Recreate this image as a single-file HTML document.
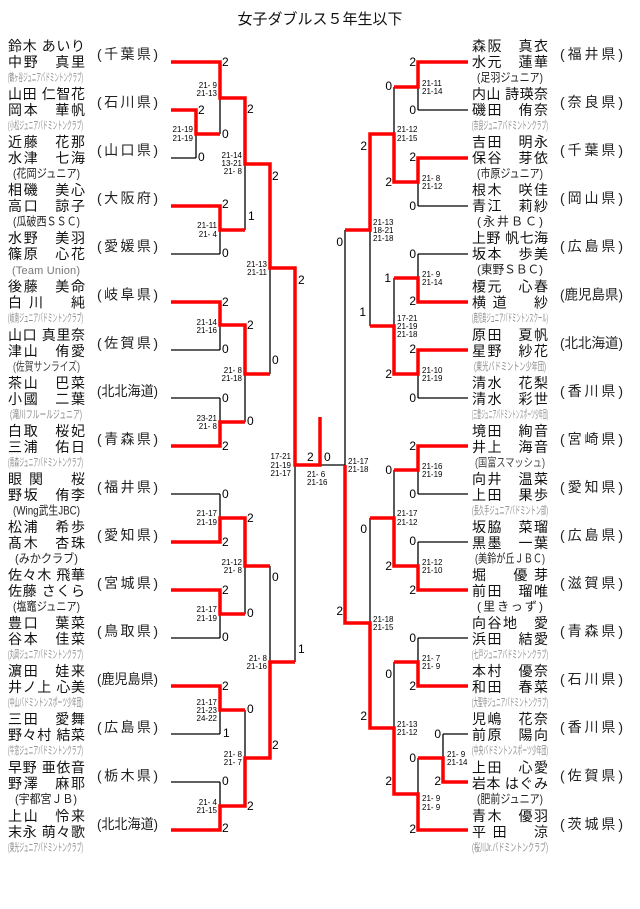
<!DOCTYPE html>
<html><head><meta charset="utf-8"><style>
html,body{margin:0;padding:0;background:#fff}
svg{display:block;font-family:"Liberation Sans","Noto Sans CJK JP",sans-serif}
.t{font-size:15px;fill:#111}
.n{font-size:14px;fill:#111}
.p{font-size:14px;fill:#222}
.c{font-size:12px;fill:#222}
.s{font-size:11px;fill:#8a8a8a}
.k{font-size:8px;fill:#000;white-space:pre}
.d{font-size:12px;fill:#000}
.e{text-anchor:end}
.bk{fill:none;stroke:#000;stroke-width:1.3}
.rd{fill:none;stroke:#f00;stroke-width:3.5;stroke-linejoin:miter}
</style></head><body>
<svg width="640" height="909" viewBox="0 0 640 909" xmlns="http://www.w3.org/2000/svg">
<rect width="640" height="909" fill="#fff"/>
<text class="t" x="320" y="24" text-anchor="middle">女子ダブルス５年生以下</text>

<!-- LEFT NAMES -->
<g class="n">
<text x="8" y="51" textLength="77" lengthAdjust="spacing">鈴木 あいり</text>
<text x="8" y="67" textLength="77" lengthAdjust="spacing">中野　真里</text>
<text x="8" y="99" textLength="77" lengthAdjust="spacing">山田 仁智花</text>
<text x="8" y="115" textLength="77" lengthAdjust="spacing">岡本　華帆</text>
<text x="8" y="147" textLength="77" lengthAdjust="spacing">近藤　花那</text>
<text x="8" y="163" textLength="77" lengthAdjust="spacing">水津　七海</text>
<text x="8" y="195" textLength="77" lengthAdjust="spacing">相磯　美心</text>
<text x="8" y="211" textLength="77" lengthAdjust="spacing">高口　諒子</text>
<text x="8" y="243" textLength="77" lengthAdjust="spacing">水野　美羽</text>
<text x="8" y="259" textLength="77" lengthAdjust="spacing">篠原　心花</text>
<text x="8" y="291.5" textLength="77" lengthAdjust="spacing">後藤　美命</text>
<text x="8" y="307.5" textLength="77" lengthAdjust="spacing">白川　純</text>
<text x="8" y="340" textLength="77" lengthAdjust="spacing">山口 真里奈</text>
<text x="8" y="356" textLength="77" lengthAdjust="spacing">津山　侑愛</text>
<text x="8" y="388" textLength="77" lengthAdjust="spacing">茶山　巴菜</text>
<text x="8" y="404" textLength="77" lengthAdjust="spacing">小國　二葉</text>
<text x="8" y="436" textLength="77" lengthAdjust="spacing">白取　桜妃</text>
<text x="8" y="452" textLength="77" lengthAdjust="spacing">三浦　佑日</text>
<text x="8" y="484" textLength="77" lengthAdjust="spacing">眼関　桜</text>
<text x="8" y="500" textLength="77" lengthAdjust="spacing">野坂　侑李</text>
<text x="8" y="532" textLength="77" lengthAdjust="spacing">松浦　希歩</text>
<text x="8" y="548" textLength="77" lengthAdjust="spacing">髙木　杏珠</text>
<text x="8" y="580" textLength="77" lengthAdjust="spacing">佐々木 飛華</text>
<text x="8" y="596" textLength="77" lengthAdjust="spacing">佐藤 さくら</text>
<text x="8" y="628" textLength="77" lengthAdjust="spacing">豊口　葉菜</text>
<text x="8" y="644" textLength="77" lengthAdjust="spacing">谷本　佳菜</text>
<text x="8" y="676" textLength="77" lengthAdjust="spacing">濵田　娃来</text>
<text x="8" y="692" textLength="77" lengthAdjust="spacing">井ノ上 心美</text>
<text x="8" y="724" textLength="77" lengthAdjust="spacing">三田　愛舞</text>
<text x="8" y="740" textLength="77" lengthAdjust="spacing">野々村 結菜</text>
<text x="8" y="772.5" textLength="77" lengthAdjust="spacing">早野 亜依音</text>
<text x="8" y="788.5" textLength="77" lengthAdjust="spacing">野澤　麻耶</text>
<text x="8" y="821" textLength="77" lengthAdjust="spacing">上山　怜来</text>
<text x="8" y="837" textLength="77" lengthAdjust="spacing">末永 萌々歌</text>
</g>

<!-- LEFT CLUBS -->
<text class="s" x="8" y="81" textLength="75" lengthAdjust="spacingAndGlyphs">(鶴ヶ谷ジュニアバドミントンクラブ)</text>
<text class="s" x="8" y="129" textLength="75" lengthAdjust="spacingAndGlyphs">(小松ジュニアバドミントンクラブ)</text>
<text class="c" x="13" y="177.5" textLength="67" lengthAdjust="spacingAndGlyphs">(花岡ジュニア)</text>
<text class="c" x="13" y="225.5" textLength="67" lengthAdjust="spacingAndGlyphs">(瓜破西ＳＳＣ)</text>
<text class="s" x="12" y="274" textLength="68" lengthAdjust="spacing" style="fill:#777">(Team Union)</text>
<text class="s" x="8" y="321.5" textLength="75" lengthAdjust="spacingAndGlyphs">(岐南ジュニアバドミントンクラブ)</text>
<text class="c" x="13" y="370.5" textLength="67" lengthAdjust="spacingAndGlyphs" style="fill:#444">(佐賀サンライズ)</text>
<text class="s" x="10" y="418" textLength="72" lengthAdjust="spacingAndGlyphs">(滝川フルールジュニア)</text>
<text class="s" x="8" y="466" textLength="75" lengthAdjust="spacingAndGlyphs">(青森ジュニアバドミントンクラブ)</text>
<text class="c" x="13" y="514.5" textLength="67" lengthAdjust="spacingAndGlyphs">(Wing武生JBC)</text>
<text class="c" x="15" y="562.5" textLength="63" lengthAdjust="spacingAndGlyphs">(みかクラブ)</text>
<text class="c" x="13" y="610.5" textLength="67" lengthAdjust="spacingAndGlyphs">(塩竈ジュニア)</text>
<text class="s" x="8" y="658" textLength="75" lengthAdjust="spacingAndGlyphs">(丸岡ジュニアバドミントンクラブ)</text>
<text class="s" x="8" y="706" textLength="75" lengthAdjust="spacingAndGlyphs">(中山バドミントンスポーツ少年団)</text>
<text class="s" x="8" y="754" textLength="75" lengthAdjust="spacingAndGlyphs">(牛窓ジュニアバドミントンクラブ)</text>
<text class="c" x="15" y="803" textLength="62" lengthAdjust="spacingAndGlyphs">(宇都宮ＪＢ)</text>
<text class="s" x="8" y="851" textLength="75" lengthAdjust="spacingAndGlyphs">(東光ジュニアバドミントンクラブ)</text>

<!-- LEFT PREFS -->
<text class="p" x="97" y="59" textLength="61" lengthAdjust="spacing">(千葉県)</text>
<text class="p" x="97" y="107" textLength="61" lengthAdjust="spacing">(石川県)</text>
<text class="p" x="97" y="155" textLength="61" lengthAdjust="spacing">(山口県)</text>
<text class="p" x="97" y="203" textLength="61" lengthAdjust="spacing">(大阪府)</text>
<text class="p" x="97" y="251" textLength="61" lengthAdjust="spacing">(愛媛県)</text>
<text class="p" x="97" y="299.5" textLength="61" lengthAdjust="spacing">(岐阜県)</text>
<text class="p" x="97" y="348" textLength="61" lengthAdjust="spacing">(佐賀県)</text>
<text class="p" x="97" y="396" textLength="61" lengthAdjust="spacingAndGlyphs">(北北海道)</text>
<text class="p" x="97" y="444" textLength="61" lengthAdjust="spacing">(青森県)</text>
<text class="p" x="97" y="492" textLength="61" lengthAdjust="spacing">(福井県)</text>
<text class="p" x="97" y="540" textLength="61" lengthAdjust="spacing">(愛知県)</text>
<text class="p" x="97" y="588" textLength="61" lengthAdjust="spacing">(宮城県)</text>
<text class="p" x="97" y="636" textLength="61" lengthAdjust="spacing">(鳥取県)</text>
<text class="p" x="97" y="684" textLength="61" lengthAdjust="spacingAndGlyphs">(鹿児島県)</text>
<text class="p" x="97" y="732" textLength="61" lengthAdjust="spacing">(広島県)</text>
<text class="p" x="97" y="780.5" textLength="61" lengthAdjust="spacing">(栃木県)</text>
<text class="p" x="97" y="829" textLength="61" lengthAdjust="spacingAndGlyphs">(北北海道)</text>

<!-- RIGHT NAMES -->
<g class="n">
<text x="472" y="51" textLength="76" lengthAdjust="spacing">森阪　真衣</text>
<text x="472" y="67" textLength="76" lengthAdjust="spacing">水元　蓮華</text>
<text x="472" y="99" textLength="76" lengthAdjust="spacing">内山 詩瑛奈</text>
<text x="472" y="115" textLength="76" lengthAdjust="spacing">磯田　侑奈</text>
<text x="472" y="147" textLength="76" lengthAdjust="spacing">吉田　明永</text>
<text x="472" y="163" textLength="76" lengthAdjust="spacing">保谷　芽依</text>
<text x="472" y="195" textLength="76" lengthAdjust="spacing">根木　咲佳</text>
<text x="472" y="211" textLength="76" lengthAdjust="spacing">青江　莉紗</text>
<text x="472" y="243" textLength="76" lengthAdjust="spacing">上野 帆七海</text>
<text x="472" y="259" textLength="76" lengthAdjust="spacing">坂本　歩美</text>
<text x="472" y="291.5" textLength="76" lengthAdjust="spacing">榎元　心春</text>
<text x="472" y="307.5" textLength="76" lengthAdjust="spacing">横道　紗</text>
<text x="472" y="340" textLength="76" lengthAdjust="spacing">原田　夏帆</text>
<text x="472" y="356" textLength="76" lengthAdjust="spacing">星野　紗花</text>
<text x="472" y="388" textLength="76" lengthAdjust="spacing">清水　花梨</text>
<text x="472" y="404" textLength="76" lengthAdjust="spacing">清水　彩世</text>
<text x="472" y="436" textLength="76" lengthAdjust="spacing">境田　絢音</text>
<text x="472" y="452" textLength="76" lengthAdjust="spacing">井上　海音</text>
<text x="472" y="484" textLength="76" lengthAdjust="spacing">向井　温菜</text>
<text x="472" y="500" textLength="76" lengthAdjust="spacing">上田　果歩</text>
<text x="472" y="532" textLength="76" lengthAdjust="spacing">坂脇　菜瑠</text>
<text x="472" y="548" textLength="76" lengthAdjust="spacing">黒墨　一葉</text>
<text x="472" y="580" textLength="76" lengthAdjust="spacing">堀　優芽</text>
<text x="472" y="596" textLength="76" lengthAdjust="spacing">前田　瑠唯</text>
<text x="472" y="628" textLength="76" lengthAdjust="spacing">向谷地　愛</text>
<text x="472" y="644" textLength="76" lengthAdjust="spacing">浜田　結愛</text>
<text x="472" y="676" textLength="76" lengthAdjust="spacing">本村　優奈</text>
<text x="472" y="692" textLength="76" lengthAdjust="spacing">和田　春菜</text>
<text x="472" y="724" textLength="76" lengthAdjust="spacing">児嶋　花奈</text>
<text x="472" y="740" textLength="76" lengthAdjust="spacing">前原　陽向</text>
<text x="472" y="772.5" textLength="76" lengthAdjust="spacing">上田　心愛</text>
<text x="472" y="788.5" textLength="76" lengthAdjust="spacing">岩本 はぐみ</text>
<text x="472" y="821" textLength="76" lengthAdjust="spacing">青木　優羽</text>
<text x="472" y="837" textLength="76" lengthAdjust="spacing">平田　涼</text>
</g>

<!-- RIGHT CLUBS -->
<text class="c" x="477" y="81.5" textLength="66" lengthAdjust="spacingAndGlyphs">(足羽ジュニア)</text>
<text class="s" x="472" y="129" textLength="76" lengthAdjust="spacingAndGlyphs">(奈良ジュニアバドミントンクラブ)</text>
<text class="c" x="477" y="177.5" textLength="66" lengthAdjust="spacingAndGlyphs">(市原ジュニア)</text>
<text class="c" x="477" y="225.5" textLength="66" lengthAdjust="spacing">(永井ＢＣ)</text>
<text class="c" x="477" y="273.5" textLength="66" lengthAdjust="spacingAndGlyphs">(東野ＳＢＣ)</text>
<text class="s" x="472" y="321.5" textLength="76" lengthAdjust="spacingAndGlyphs">(鹿児島ジュニアバドミントンスクール)</text>
<text class="s" x="474" y="370" textLength="72" lengthAdjust="spacingAndGlyphs">(東光バドミントン少年団)</text>
<text class="s" x="472" y="418" textLength="76" lengthAdjust="spacingAndGlyphs">(三豊ジュニアバドミントンスポーツ少年団)</text>
<text class="c" x="475" y="466.5" textLength="70" lengthAdjust="spacingAndGlyphs" style="fill:#444">(国富スマッシュ)</text>
<text class="s" x="472" y="514" textLength="76" lengthAdjust="spacingAndGlyphs">(長久手ジュニアバドミントン部)</text>
<text class="c" x="475" y="562.5" textLength="70" lengthAdjust="spacingAndGlyphs">(美鈴が丘ＪＢＣ)</text>
<text class="c" x="477" y="610.5" textLength="66" lengthAdjust="spacing">(里きっず)</text>
<text class="s" x="472" y="658" textLength="76" lengthAdjust="spacingAndGlyphs">(七戸ジュニアバドミントンクラブ)</text>
<text class="s" x="472" y="706" textLength="76" lengthAdjust="spacingAndGlyphs">(大聖寺ジュニアバドミントンクラブ)</text>
<text class="s" x="472" y="754" textLength="76" lengthAdjust="spacingAndGlyphs">(中央バドミントンスポーツ少年団)</text>
<text class="c" x="477" y="803" textLength="66" lengthAdjust="spacingAndGlyphs">(肥前ジュニア)</text>
<text class="s" x="472" y="851" textLength="76" lengthAdjust="spacingAndGlyphs">(桜川Jr.バドミントンクラブ)</text>

<!-- RIGHT PREFS -->
<text class="p" x="560" y="59" textLength="63" lengthAdjust="spacing">(福井県)</text>
<text class="p" x="560" y="107" textLength="63" lengthAdjust="spacing">(奈良県)</text>
<text class="p" x="560" y="155" textLength="63" lengthAdjust="spacing">(千葉県)</text>
<text class="p" x="560" y="203" textLength="63" lengthAdjust="spacing">(岡山県)</text>
<text class="p" x="560" y="251" textLength="63" lengthAdjust="spacing">(広島県)</text>
<text class="p" x="560" y="299.5" textLength="63" lengthAdjust="spacingAndGlyphs">(鹿児島県)</text>
<text class="p" x="560" y="348" textLength="63" lengthAdjust="spacingAndGlyphs">(北北海道)</text>
<text class="p" x="560" y="396" textLength="63" lengthAdjust="spacing">(香川県)</text>
<text class="p" x="560" y="444" textLength="63" lengthAdjust="spacing">(宮崎県)</text>
<text class="p" x="560" y="492" textLength="63" lengthAdjust="spacing">(愛知県)</text>
<text class="p" x="560" y="540" textLength="63" lengthAdjust="spacing">(広島県)</text>
<text class="p" x="560" y="588" textLength="63" lengthAdjust="spacing">(滋賀県)</text>
<text class="p" x="560" y="636" textLength="63" lengthAdjust="spacing">(青森県)</text>
<text class="p" x="560" y="684" textLength="63" lengthAdjust="spacing">(石川県)</text>
<text class="p" x="560" y="732" textLength="63" lengthAdjust="spacing">(香川県)</text>
<text class="p" x="560" y="780.5" textLength="63" lengthAdjust="spacing">(佐賀県)</text>
<text class="p" x="560" y="829" textLength="63" lengthAdjust="spacing">(茨城県)</text>

<!-- BLACK LINES -->
<path class="bk" d="M171 158H196M196 110V158M220 62V134M171 254H220M220 206V254M245 98V230M270 164V374M171 350H220M220 302V350M245 325V422M171 398H220M220 398V446M295 268V662M171 494H220M220 494V542M245 518V614M171 638H220M220 590V638M270 566V758M171 734H220M220 686V734M245 710V806M171 782H220M220 782V830M320 465H345"/>
<path class="bk" d="M468 110H418M418 62V110M394 87V182M468 206H418M418 158V206M370 134V326M468 254H418M418 254V302M394 278V374M468 398H418M418 350V398M345 230V623M468 494H418M418 446V494M394 470V566M468 542H418M418 542V590M370 518V728M468 638H418M418 638V686M394 662V794M468 734H443M443 734V782M418 758V830"/>

<!-- RED LINES -->
<path class="rd" d="M171 62H220V98H245V164H270V268H295V465H320V417"/>
<path class="rd" d="M171 110H196V134H220"/>
<path class="rd" d="M171 206H220V230H245"/>
<path class="rd" d="M171 302H220V325H245V374H270"/>
<path class="rd" d="M171 446H220V422H245"/>
<path class="rd" d="M171 542H220V518H245V566H270"/>
<path class="rd" d="M171 590H220V614H245"/>
<path class="rd" d="M171 686H220V710H245"/>
<path class="rd" d="M171 830H220V806H245V758H270V662H295"/>
<path class="rd" d="M468 62H418V87H394"/>
<path class="rd" d="M468 158H418V182H394V134H370V230H345"/>
<path class="rd" d="M468 302H418V278H394"/>
<path class="rd" d="M468 350H418V374H394V326H370"/>
<path class="rd" d="M468 446H418V470H394"/>
<path class="rd" d="M468 590H418V566H394V518H370"/>
<path class="rd" d="M468 686H418V662H394"/>
<path class="rd" d="M468 782H443V758H418"/>
<path class="rd" d="M468 830H418V794H394V728H370V623H345V465"/>

<!-- GAME COUNTS LEFT -->
<g class="d">
<text x="222" y="66">2</text><text x="222" y="138">0</text><text x="222" y="208">2</text><text x="222" y="257">0</text>
<text x="222" y="306">2</text><text x="222" y="353">0</text><text x="222" y="402">0</text><text x="222" y="450">2</text>
<text x="222" y="498">0</text><text x="222" y="546">2</text><text x="222" y="594">2</text><text x="222" y="641">0</text>
<text x="222" y="690">2</text><text x="223" y="737">1</text><text x="222" y="785">0</text><text x="222" y="832">2</text>
<text x="198" y="114">2</text><text x="198" y="161">0</text>
<text x="247" y="113">2</text><text x="248" y="220">1</text><text x="247" y="329">2</text><text x="247" y="425">0</text>
<text x="247" y="522">2</text><text x="247" y="617">0</text><text x="247" y="713">0</text><text x="247" y="810">2</text>
<text x="272" y="180">2</text><text x="272" y="364">0</text><text x="272" y="581">0</text><text x="272" y="749">2</text>
<text x="298" y="284">2</text><text x="298" y="653">1</text>
<text x="307" y="461">2</text><text x="324" y="461">0</text>
</g>
<!-- GAME COUNTS RIGHT -->
<g class="d e">
<text x="416" y="66">2</text><text x="416" y="114">0</text><text x="416" y="161">2</text><text x="416" y="210">0</text>
<text x="416" y="258">0</text><text x="416" y="305">2</text><text x="416" y="353">2</text><text x="416" y="402">0</text>
<text x="416" y="450">2</text><text x="416" y="498">0</text><text x="416" y="545">0</text><text x="416" y="594">2</text>
<text x="416" y="642">0</text><text x="416" y="690">2</text><text x="416" y="762">0</text><text x="416" y="833">2</text>
<text x="441" y="738">0</text><text x="441" y="785">2</text>
<text x="392" y="90">0</text><text x="392" y="186">2</text><text x="391" y="282">1</text><text x="392" y="378">2</text>
<text x="392" y="474">0</text><text x="392" y="570">2</text><text x="392" y="678">0</text><text x="392" y="785">2</text>
<text x="367" y="150">2</text><text x="366" y="316">1</text><text x="367" y="533">0</text><text x="367" y="720">2</text>
<text x="343" y="246">0</text><text x="343" y="615">2</text>
</g>

<!-- SCORES LEFT -->
<g class="k e">
<text x="193" y="132">21-19</text><text x="193" y="141">21-19</text>
<text x="217" y="88">21- 9</text><text x="217" y="96">21-13</text>
<text x="217" y="228">21-11</text><text x="217" y="237">21- 4</text>
<text x="242" y="158">21-14</text><text x="242" y="166">13-21</text><text x="242" y="174">21- 8</text>
<text x="217" y="325">21-14</text><text x="217" y="333">21-16</text>
<text x="217" y="421">23-21</text><text x="217" y="429">21- 8</text>
<text x="242" y="373">21- 8</text><text x="242" y="381">21-18</text>
<text x="267" y="267">21-13</text><text x="267" y="275">21-11</text>
<text x="291" y="459">17-21</text><text x="291" y="468">21-19</text><text x="291" y="476">21-17</text>
<text x="217" y="516">21-17</text><text x="217" y="525">21-19</text>
<text x="217" y="612">21-17</text><text x="217" y="621">21-19</text>
<text x="242" y="565">21-12</text><text x="242" y="573">21- 8</text>
<text x="267" y="661">21- 8</text><text x="267" y="669">21-16</text>
<text x="217" y="705">21-17</text><text x="217" y="713">21-23</text><text x="217" y="721">24-22</text>
<text x="242" y="757">21- 8</text><text x="242" y="765">21- 7</text>
<text x="217" y="805">21- 4</text><text x="217" y="813">21-15</text>
</g>
<g class="k">
<text x="307" y="477">21- 6</text><text x="307" y="485">21-16</text>
<text x="422" y="86">21-11</text><text x="422" y="94">21-14</text>
<text x="397" y="132">21-12</text><text x="397" y="141">21-15</text>
<text x="422" y="181">21- 8</text><text x="422" y="189">21-12</text>
<text x="373" y="225">21-13</text><text x="373" y="233">18-21</text><text x="373" y="241">21-18</text>
<text x="422" y="277">21- 9</text><text x="422" y="285">21-14</text>
<text x="397" y="321">17-21</text><text x="397" y="329">21-19</text><text x="397" y="337">21-18</text>
<text x="422" y="373">21-10</text><text x="422" y="381">21-19</text>
<text x="348" y="464">21-17</text><text x="348" y="472">21-18</text>
<text x="422" y="469">21-16</text><text x="422" y="477">21-19</text>
<text x="397" y="516">21-17</text><text x="397" y="525">21-12</text>
<text x="422" y="565">21-12</text><text x="422" y="573">21-10</text>
<text x="373" y="622">21-18</text><text x="373" y="630">21-15</text>
<text x="422" y="661">21- 7</text><text x="422" y="669">21- 9</text>
<text x="397" y="727">21-13</text><text x="397" y="735">21-12</text>
<text x="447" y="757">21- 9</text><text x="447" y="765">21-14</text>
<text x="422" y="801">21- 9</text><text x="422" y="810">21- 9</text>
</g>
</svg>
</body></html>
